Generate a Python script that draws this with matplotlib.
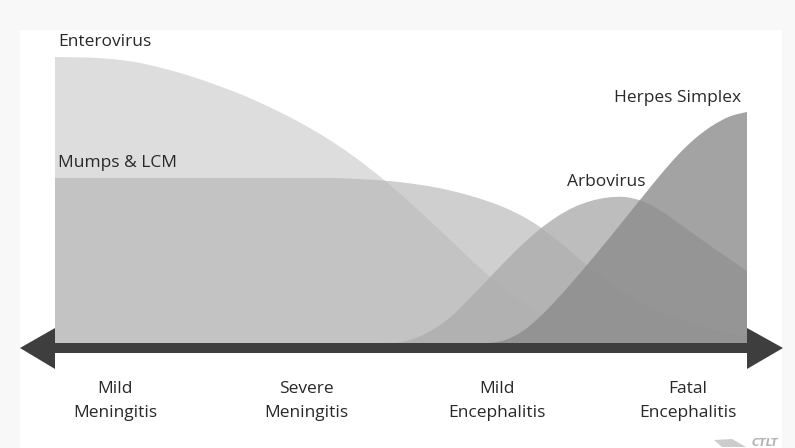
import numpy as np
import matplotlib
matplotlib.use("Agg")
import matplotlib.pyplot as plt
from matplotlib.patches import Polygon, Rectangle, PathPatch
from matplotlib.path import Path

plt.rcParams["font.family"] = ["Open Sans", "DejaVu Sans"]

# Position along the clinical-severity axis (0 = left end of the shaded band, 100 = right end)
severity = np.linspace(0, 100, 41)

# Relative frequency of each virus along the severity axis (peak of enterovirus = 100)
enterovirus = [100.0, 99.9, 99.8, 99.4, 98.8, 97.8, 96.4, 94.8, 93.0, 90.9,
               88.7, 86.3, 83.6, 80.7, 77.6, 74.2, 70.5, 66.4, 61.9, 57.1,
               51.9, 46.5, 40.9, 35.2, 29.4, 23.9, 18.9, 14.6, 11.1, 8.3,
               6.1, 4.4, 3.1, 2.1, 1.3, 0.8, 0.5, 0.2, 0.1, 0.0, 0.0]
mumps_lcm = [57.7, 57.7, 57.7, 57.7, 57.7, 57.7, 57.7, 57.7, 57.7, 57.7,
             57.7, 57.7, 57.7, 57.7, 57.7, 57.7, 57.7, 57.5, 57.2, 56.8,
             56.2, 55.4, 54.4, 53.1, 51.5, 49.6, 47.3, 44.4, 40.7, 36.1,
             31.0, 26.0, 21.4, 17.4, 14.0, 11.1, 8.6, 6.5, 4.8, 3.4, 2.3]
arbovirus = [0.0, 0.0, 0.0, 0.0, 0.0, 0.0, 0.0, 0.0, 0.0, 0.0,
             0.0, 0.0, 0.0, 0.0, 0.0, 0.0, 0.0, 0.0, 0.0, 0.0,
             0.3, 2.1, 5.2, 9.8, 15.8, 22.1, 28.4, 34.4, 39.7, 44.1,
             47.5, 49.7, 50.9, 51.0, 49.5, 46.3, 42.1, 37.8, 33.5, 29.3, 25.1]
herpes_simplex = [0.0, 0.0, 0.0, 0.0, 0.0, 0.0, 0.0, 0.0, 0.0, 0.0,
                  0.0, 0.0, 0.0, 0.0, 0.0, 0.0, 0.0, 0.0, 0.0, 0.0,
                  0.0, 0.0, 0.0, 0.0, 0.0, 0.0, 1.0, 4.0, 9.0, 15.2,
                  22.0, 29.1, 36.4, 43.9, 51.4, 58.8, 65.7, 71.5, 76.0, 79.2, 80.8]

virus_names = ["Enterovirus", "Mumps & LCM", "Arbovirus", "Herpes Simplex"]
stages = ["Mild\nMeningitis", "Severe\nMeningitis", "Mild\nEncephalitis", "Fatal\nEncephalitis"]


def smooth_area(x, y):
    """Closed area under a smooth (Catmull-Rom style Bezier) curve through (x, y)."""
    pts = np.column_stack([x, y])
    ext = np.vstack([pts[0], pts, pts[-1]])
    verts = [(x[0], 0.0), tuple(pts[0])]
    codes = [Path.MOVETO, Path.LINETO]
    for i in range(len(pts) - 1):
        p0, p1, p2, p3 = ext[i], ext[i + 1], ext[i + 2], ext[i + 3]
        c1 = p1 + (p2 - p0) / 6.0
        c2 = p2 - (p3 - p1) / 6.0
        verts += [tuple(c1), tuple(c2), tuple(p2)]
        codes += [Path.CURVE4] * 3
    verts += [(x[-1], 0.0), (x[0], 0.0)]
    codes += [Path.LINETO, Path.CLOSEPOLY]
    return Path(verts, codes)


W, H = 795, 448
fig = plt.figure(figsize=(W / 100, H / 100), dpi=100, facecolor="#f8f8f8")
# white card behind the diagram
fig.patches.append(Rectangle((20 / W, 0), 762 / W, 418 / H, transform=fig.transFigure,
                             facecolor="white", edgecolor="none", zorder=-5))

ax = fig.add_axes([55 / W, 105 / H, 692 / W, 286 / H])
ax.set_zorder(2)
ax.set_xlim(0, 100)
ax.set_ylim(0, 100)
ax.axis("off")
ax.patch.set_alpha(0)

layers = [
    (enterovirus, "#dddddd", 1.0),
    (mumps_lcm, "#b5b5b5", 0.64),
    (arbovirus, "#adadad", 0.80),
    (herpes_simplex, "#8c8c8c", 0.80),
]
for z, (vals, col, a) in enumerate(layers, start=1):
    ax.add_patch(PathPatch(smooth_area(severity, np.asarray(vals)), facecolor=col,
                           alpha=a, linewidth=0, zorder=z))

# double-headed severity arrow under the shaded band
px_x = 100 / 692          # data units per pixel, horizontal
px_y = 100 / 286          # data units per pixel, vertical
shaft = 10 * px_y
head_up, head_dn = 15 * px_y, 26 * px_y
tip_l, tip_r = 35 * px_x, 36 * px_x
mid = -shaft / 2
arrow = Polygon([(-tip_l, mid), (0, head_up), (0, 0), (100, 0), (100, head_up),
                 (100 + tip_r, mid), (100, -head_dn), (100, -shaft), (0, -shaft),
                 (0, -head_dn)], closed=True, facecolor="#3e3e3e", edgecolor="none",
                zorder=6, clip_on=False)
ax.add_patch(arrow)

txt = dict(color="#282828", fontsize=12.5)
label_pos = [(0.45, 103.8), (0.45, 61.5), (74.0, 54.9), (80.8, 84.3)]
for name, (lx, ly) in zip(virus_names, label_pos):
    ax.text(lx, ly, name, ha="left", va="baseline", zorder=7, **txt)

# stage labels centred in four equal segments of the arrow
lo, hi = -tip_l, 100 + tip_r
seg = (hi - lo) / len(stages)
for i, s in enumerate(stages):
    ax.text(lo + (i + 0.5) * seg, -25.9, s, ha="center", va="baseline",
            multialignment="center", linespacing=1.66, zorder=7, **txt)

fig.text(752 / W, 1 - 446 / H, "CTLT", ha="left", va="baseline", fontsize=7.5,
         fontweight="bold", fontstyle="italic", color="#b4b4b4", family="DejaVu Sans")
fig.patches.append(Polygon([(714 / W, 1 - 440 / H), (732 / W, 1 - 439 / H),
                            (746 / W, 1 - 447 / H), (722 / W, 1 - 447 / H)],
                           closed=True, transform=fig.transFigure,
                           facecolor="#cccccc", edgecolor="none"))

fig.savefig("out.png", dpi=100, facecolor=fig.get_facecolor())
